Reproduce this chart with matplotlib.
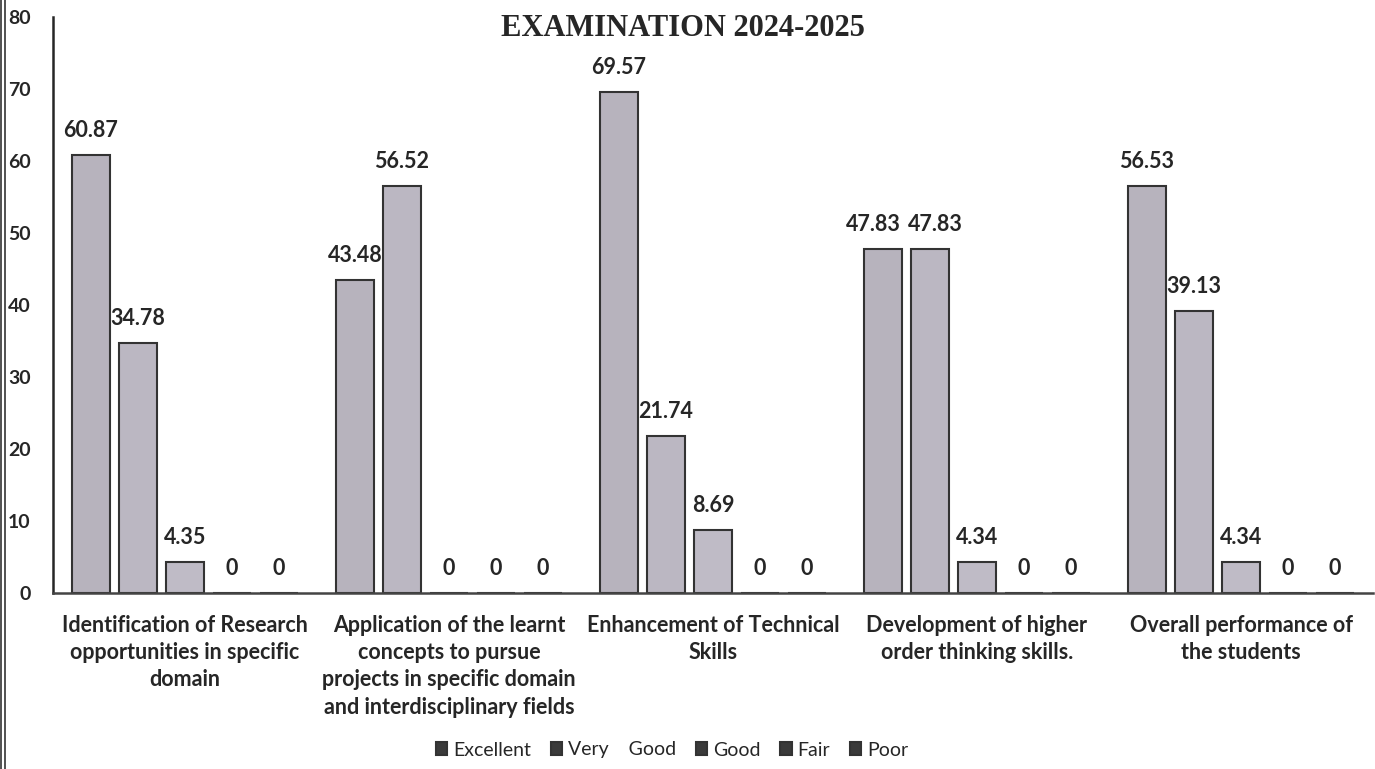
import matplotlib
matplotlib.use("Agg")
import matplotlib.pyplot as plt
from matplotlib.lines import Line2D
import numpy as np

# data
categories = [
    "Identification of Research\nopportunities in specific\ndomain",
    "Application of the learnt\nconcepts to pursue\nprojects in specific domain\nand interdisciplinary fields",
    "Enhancement of Technical\nSkills",
    "Development of higher\norder thinking skills.",
    "Overall performance of\nthe students",
]
series_names = ["Excellent", "Very    Good", "Good", "Fair", "Poor"]
excellent = [60.87, 43.48, 69.57, 47.83, 56.53]
very_good = [34.78, 56.52, 21.74, 47.83, 39.13]
good = [4.35, 0, 8.69, 4.34, 4.34]
fair = [0, 0, 0, 0, 0]
poor = [0, 0, 0, 0, 0]
value_labels = [
    ["60.87", "43.48", "69.57", "47.83", "56.53"],
    ["34.78", "56.52", "21.74", "47.83", "39.13"],
    ["4.35", "0", "8.69", "4.34", "4.34"],
    ["0", "0", "0", "0", "0"],
    ["0", "0", "0", "0", "0"],
]
title = "EXAMINATION 2024-2025"

bar_colors = ["#b7b3bd", "#bbb7c2", "#bfbbc6", "#c2bfca", "#c6c3cd"]
ink = "#262626"

plt.rcParams['font.family'] = ['Lato', 'DejaVu Sans']

fig = plt.figure(figsize=(13.75, 7.69), dpi=100)
ax = fig.add_axes([53/1375, 1-593/769, 1320/1375, 576/769])

series = [excellent, very_good, good, fair, poor]
x = np.arange(len(categories))
step = 47/264
width = 38/264
for i, vals in enumerate(series):
    pos = x + (i-2)*step
    ax.bar(pos, vals, width, color=bar_colors[i], edgecolor="#333333",
           linewidth=1.5, label=series_names[i], zorder=2)
    for j, (xp, v, lab) in enumerate(zip(pos, vals, value_labels[i])):
        dx = 0
        # the two 47.83 labels are pushed apart in the original
        if j == 3 and i == 0:
            dx = -7
        elif j == 3 and i == 1:
            dx = 4
        ax.annotate(lab, (xp, v), xytext=(dx, 13), textcoords="offset points",
                    ha="center", va="baseline", fontsize=15.5, fontweight="bold",
                    color=ink)

ax.set_xlim(-0.5, 4.5)
ax.set_ylim(0, 80)
ax.set_yticks(np.arange(0, 81, 10))
ax.tick_params(axis="y", length=0, pad=16, labelsize=14, labelcolor=ink)
for t in ax.get_yticklabels():
    t.set_fontweight("bold")
ax.set_xticks(x)
ax.set_xticklabels(categories, fontsize=15.5, fontweight="bold", color=ink,
                   linespacing=1.36)
ax.tick_params(axis="x", length=0, pad=16)
ax.spines["top"].set_visible(False)
ax.spines["right"].set_visible(False)
ax.spines["left"].set_linewidth(1.8)
ax.spines["bottom"].set_linewidth(1.8)
ax.spines["left"].set_color(ink)
ax.spines["bottom"].set_color("#444444")

fig.text(0.497, 1-29/769, title, ha="center", va="center",
         fontsize=22, fontweight="bold", family="Liberation Serif", color=ink)

leg = ax.legend(loc="center", bbox_to_anchor=(672/1375, 1-750/769),
                bbox_transform=fig.transFigure, ncol=5, frameon=False,
                fontsize=14, handlelength=0.6, handleheight=0.6,
                handletextpad=0.3, columnspacing=1.0)
for h in leg.legend_handles:
    h.set_facecolor("#3a3a3a")
for t in leg.get_texts():
    t.set_color(ink)

# page border from the scan
fig.add_artist(Line2D([1/1375, 1/1375], [0, 1], transform=fig.transFigure,
                      color="#333333", linewidth=1.2))
fig.add_artist(Line2D([5/1375, 5/1375], [0, 1], transform=fig.transFigure,
                      color="#333333", linewidth=1.2))

fig.savefig("out.png", dpi=100)
